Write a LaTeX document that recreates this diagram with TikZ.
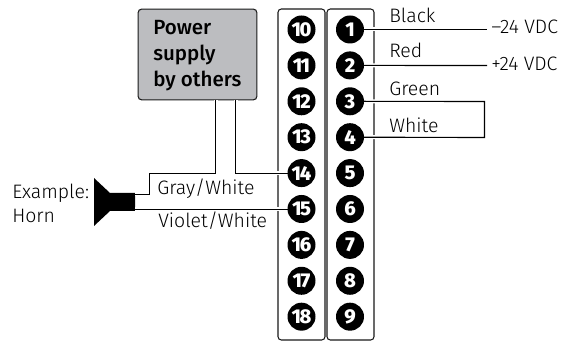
\documentclass[tikz,border=0pt]{standalone}
\usepackage{fontspec}
\setmainfont{Fira Sans Light}[BoldFont={Fira Sans Medium}]
\newfontfamily\pinfont[LetterSpace=-7]{Fira Sans ExtraBold}
\usetikzlibrary{positioning}
\definecolor{boxgray}{HTML}{BCBDC0}
\tikzset{
    pin/.style={circle, fill=black, text=white, inner sep=0pt, minimum size=21pt, font=\pinfont\fontsize{15}{15}\selectfont},
    column/.style={draw=black!90, line width=0.8pt, rounded corners=2.5pt},
    wire/.style={draw=black, line width=0.85pt, preaction={draw=white, line width=3pt}},
    lbl/.style={inner sep=0pt, anchor=base west, font=\fontsize{14.6}{14.6}\selectfont}
}
\begin{document}
\begin{tikzpicture}[x=0.75pt, y=-0.75pt]
    \useasboundingbox (0,0) rectangle (569,341);
    % Colunas dos terminais
    \draw[column] (278,9) rectangle (325,340);
    \draw[column] (327,9) rectangle (374,340);
    % Fonte
    \node[draw=black!90, line width=0.8pt, fill=boxgray, rounded corners=2.5pt, minimum width=89pt, minimum height=68pt, inner sep=0pt] (power) at (197.5,54.5) {};
    \node[inner sep=0pt, anchor=base west, align=left, font=\bfseries\fontsize{15.4}{19.6}\selectfont] (powertext) at (153,87) {Power\\supply\\by others};
    % Buzina
    \fill[black] (94,178) -- (110,193) -- (135,193) -- (135,211) -- (110,211) -- (94,226) -- cycle;
    \coordinate (hornup) at (135,194.5);
    \coordinate (hornlow) at (135,209.5);
    \coordinate (end1) at (487,29.5);
    \coordinate (end2) at (487,65.5);
    \coordinate (loop3) at (484.5,101.5);
    \coordinate (loop4) at (484.5,137.5);
    \coordinate (w1) at (215.5,173.5);
    \coordinate (w2) at (235.5,173.5);
    \coordinate (w3) at (149.5,173.5);
    % Terminais
    \foreach \n [count=\i from 0] in {1,...,9} {
        \coordinate (c\n) at (350,{29.5+35.9*\i});
    }
    \foreach \n [count=\i from 0] in {10,...,18} {
        \coordinate (c\n) at (301.5,{29.5+35.9*\i});
    }
    % Fios
    \draw[wire] (power.south -| w1) -- (w1) -- (w3) -- (w3 |- hornup) -- (hornup);
    \draw[wire] (power.south -| w2) -- (w2) -- (c14 |- w2);
    \draw[wire] (hornlow) -- (c15 |- hornlow);
    \draw[wire] (c1) -- (end1);
    \draw[wire] (c2) -- (end2);
    \draw[wire] (c3) -- (loop3) -- (loop4) -- (c4);
    % Terminais sobre os fios
    \foreach \n in {1,...,18} {
        \node[pin] (p\n) at (c\n) {\n};
    }
    % Textos
    \node[lbl] (black) at (389,23) {Black};
    \node[lbl] (red) at (389,58) {Red};
    \node[lbl] (green) at (389,96) {Green};
    \node[lbl] (white) at (389,133) {White};
    \node[lbl] (neg) at (491,34) {--24 VDC};
    \node[lbl] (pos) at (491,71) {+24 VDC};
    \node[lbl] (gray) at (157,195) {Gray/White};
    \node[lbl] (violet) at (158,228) {Violet/White};
    \node[lbl] (example) at (12,199) {Example:};
    \node[lbl] (horn) at (12,223) {Horn};
\end{tikzpicture}
\end{document}
